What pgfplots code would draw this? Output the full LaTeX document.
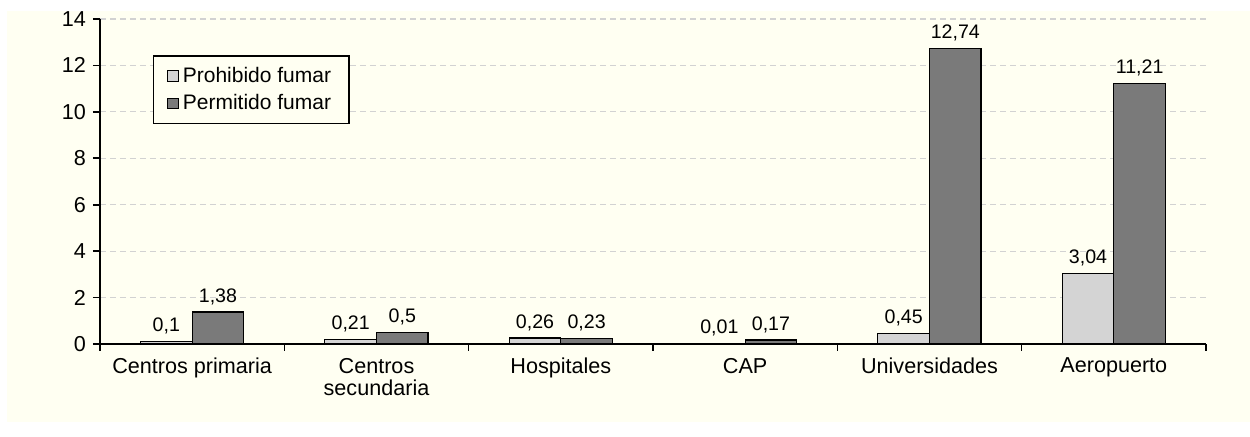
\documentclass[border=0pt]{standalone}
\usepackage{pgfplots}
\pgfplotsset{compat=1.18}
\usepackage{fontspec}
\setmainfont{Liberation Sans}
\definecolor{fondo}{HTML}{FFFFF2}
\definecolor{grisclaro}{HTML}{D4D4D4}
\definecolor{grisoscuro}{HTML}{7A7A7A}
\definecolor{rejilla}{HTML}{D2D2D2}
\pgfplotsset{cuadro/.style={legend image code/.code={\draw[##1] (0pt,-2.6pt) rectangle (5.2pt,2.6pt);}}}
\begin{document}
\begin{tikzpicture}
% fondo: 1 px = 0.5 pt
\fill[white] (-50pt,-46.5pt) rectangle (575pt,172pt);
\fill[fondo] (-46.5pt,-39pt) rectangle (575pt,166.5pt);
\begin{axis}[
  at={(0,0)}, anchor=south west,
  width=553pt, height=162.5pt, scale only axis,
  xmin=-0.5, xmax=5.5, ymin=0, ymax=14,
  axis x line*=bottom, axis y line*=left,
  axis line style={black, line width=0.8pt},
  ybar=0pt, bar width=25.8pt,
  xtick={0,...,5},
  xticklabels={Centros primaria,{Centros\\secundaria},Hospitales,CAP,Universidades,Aeropuerto},
  minor xtick={-0.5,0.5,...,5.5},
  major x tick style={draw=none},
  minor x tick style={draw=black, line width=0.8pt},
  ytick={0,2,...,14},
  yticklabel={\pgfmathtruncatemacro\t{\tick}\t},
  y tick style={draw=black, line width=0.8pt},
  tick align=outside, xtick pos=bottom, ytick pos=left,
  major tick length=3.5pt, minor tick length=3.5pt,
  ymajorgrids, grid style={rejilla, dash pattern=on 3pt off 2pt, line width=0.6pt},
  ticklabel style={font=\fontsize{10.8}{11}\selectfont},
  xticklabel style={align=center},
  point meta=explicit symbolic,
  nodes near coords,
  nodes near coords style={font=\fontsize{9.8}{11}\selectfont, text=black},
  legend style={at={(0.0476,0.888)}, anchor=north west, draw=black, fill=fondo,
    line width=0.6pt, font=\fontsize{10.5}{12}\selectfont, row sep=0.5pt,
    inner xsep=7pt, inner ysep=3.5pt},
  legend cell align=left,
]
\addplot[fill=grisclaro, draw=black, line width=0.6pt, cuadro]
  coordinates {(0,0.1) [0,1] (1,0.21) [0,21] (2,0.26) [0,26] (3,0.01) [0,01] (4,0.45) [0,45] (5,3.04) [3,04]};
\addplot[fill=grisoscuro, draw=black, line width=0.6pt, cuadro]
  coordinates {(0,1.38) [1,38] (1,0.5) [0,5] (2,0.23) [0,23] (3,0.17) [0,17] (4,12.74) [12,74] (5,11.21) [11,21]};
\legend{Prohibido fumar,Permitido fumar}
\end{axis}
\pgfresetboundingbox
\useasboundingbox (-50pt,-46.5pt) rectangle (575pt,172pt);
\end{tikzpicture}
\end{document}
